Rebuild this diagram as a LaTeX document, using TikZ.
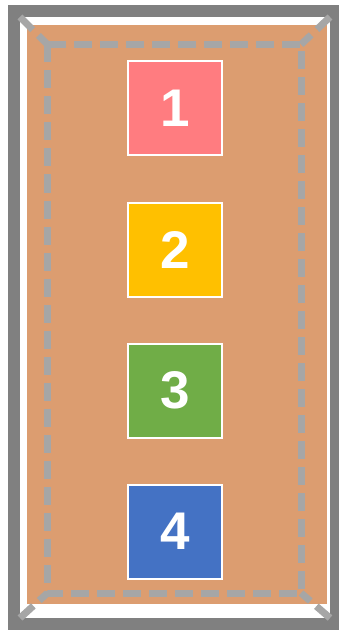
\documentclass[tikz,border=0pt]{standalone}
\usepackage{xcolor}
\usepackage{tikz}
\usepackage{fontspec}
\setmainfont{Liberation Sans}
\usetikzlibrary{
  positioning,
  calc
}
\definecolor{rmFrame}{HTML}{808080}
\definecolor{rmDash}{HTML}{A6A6A6}
\definecolor{rmFloor}{HTML}{DC9D70}
\definecolor{rmRed}{HTML}{FF7C80}
\definecolor{rmGold}{HTML}{FFC000}
\definecolor{rmGreen}{HTML}{70AD47}
\definecolor{rmBlue}{HTML}{4472C4}
\tikzset{
  slot/.style={
    draw=white, line width=2pt, minimum size=94pt, inner sep=0pt, outer sep=0pt,
    font=\fontsize{53}{53}\selectfont\bfseries, text=white
  },
  frame/.style={draw=rmFrame, line width=12pt, fill=white},
  floor/.style={fill=rmFloor},
  border/.style={draw=rmDash, line width=7pt, dash pattern=on 18pt off 8pt}
}

\begin{document}
\begin{tikzpicture}[x=1pt, y=-1pt, node distance=47pt]
  \useasboundingbox (0,0) rectangle (339,631);
  % room
  \draw[frame] (14,11) rectangle (336,624);
  \fill[floor] (27,25) rectangle (327,604);
  \coordinate (otl) at (20,17);
  \coordinate (otr) at (330,17);
  \coordinate (obl) at (20,618);
  \coordinate (obr) at (330,618);
  \coordinate (itl) at (47.5,44.5);
  \coordinate (itr) at (301,44.5);
  \coordinate (ibl) at (47.5,593);
  \coordinate (ibr) at (301,593);
  \draw[border] (itl) rectangle (ibr);
  \draw[border] (otl) -- (itl);
  \draw[border] (otr) -- (itr);
  \draw[border] (obl) -- (ibl);
  \draw[border] (obr) -- (ibr);
  % slots
  \node[slot, fill=rmRed] (s1) at (175,108.5) {1};
  \node[slot, fill=rmGold, below=of s1] (s2) {2};
  \node[slot, fill=rmGreen, below=of s2] (s3) {3};
  \node[slot, fill=rmBlue, below=of s3] (s4) {4};
\end{tikzpicture}
\end{document}
